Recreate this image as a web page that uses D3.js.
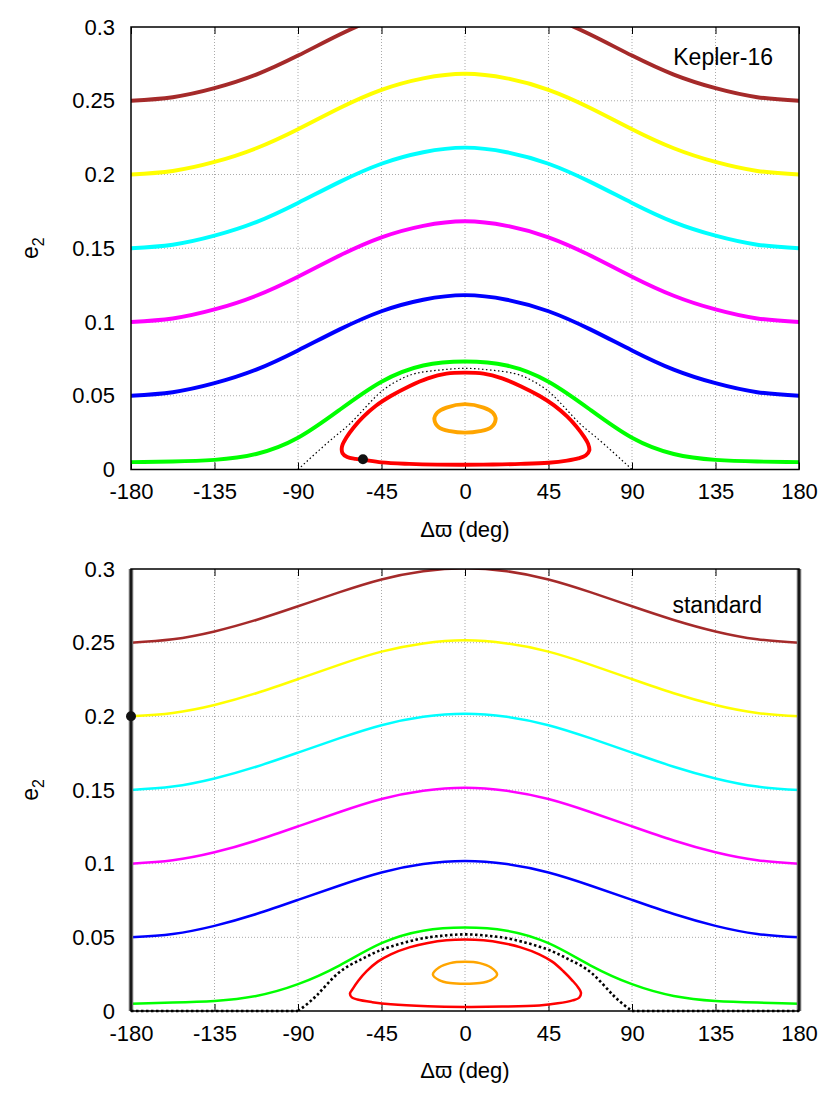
<!DOCTYPE html>
<html>
<head>
<meta charset="utf-8">
<script src="https://cdn.jsdelivr.net/npm/d3@7"></script>
<style>
  body { margin: 0; background: #fff; }
  text { font-family: "Liberation Sans", Arial, Helvetica, sans-serif; }
</style>
</head>
<body>
<div id="chart"></div>
<script>
// angles (deg) the level curves were read at
const dw = [-180, -157.5, -135, -112.5, -90, -67.5, -45, -22.5, 0, 22.5, 45, 67.5, 90, 112.5, 135, 157.5, 180];

const xTicks = [-180, -135, -90, -45, 0, 45, 90, 135, 180];
const yTicks = [0, 0.05, 0.1, 0.15, 0.2, 0.25, 0.3];
const yTickLabels = ["0", "0.05", "0.1", "0.15", "0.2", "0.25", "0.3"];

// Kepler-16 panel
const keplerBrown   = [.250, .2524, .2585, .2677, .2806, .2949, .3071, .3149, .318, .3149, .3071, .2949, .2806, .2677, .2585, .2524, .250];
const keplerYellow  = [.200, .2024, .2085, .2178, .2307, .2451, .2574, .2652, .2683, .2652, .2574, .2451, .2307, .2178, .2085, .2024, .200];
const keplerCyan    = [.150, .1524, .1585, .1677, .1807, .195, .2073, .2151, .2182, .2151, .2073, .195, .1807, .1677, .1585, .1524, .150];
const keplerMagenta = [.100, .1024, .1085, .1178, .1307, .1451, .1574, .1652, .1683, .1652, .1574, .1451, .1307, .1178, .1085, .1024, .100];
const keplerBlue    = [.050, .0524, .0585, .0677, .0807, .095, .1073, .1151, .1182, .1151, .1073, .095, .0807, .0677, .0585, .0524, .050];
const keplerGreen   = [.005, .0054, .0065, .0105, .0215, .0405, .0595, .0705, .0732, .0705, .0595, .0405, .0215, .0105, .0065, .0054, .005];
const keplerRed = [[0,.0657],[-10,.065],[-20,.0618],[-30,.0565],[-40,.0498],[-48,.0432],[-55,.0355],[-60,.0285],[-64,.0215],[-66.3,.0155],[-66,.011],[-63.5,.0085],[-59,.0072],[-55,.0066],[-45,.0048],[-30,.0038],[-15,.0033],[0,.0032],[15,.0034],[30,.0038],[45,.0046],[55,.006],[61,.0075],[65,.0095],[67,.013],[66.3,.0175],[64,.0225],[60,.0292],[55,.036],[48,.0435],[40,.05],[30,.0565],[20,.0618],[10,.065]];
const keplerOrange = [[-16.5,.034],[-15,.0385],[-10,.042],[0,.0443],[10,.042],[15,.0385],[16.5,.034],[14,.0285],[8,.026],[0,.025],[-8,.026],[-14,.0285]];
const keplerSep = [[-90,0],[-80,.0115],[-70,.0225],[-62,.031],[-53,.043],[-44,.054],[-35,.061],[-26,.0653],[-13,.0675],[0,.0686],[13,.0675],[26,.0653],[35,.061],[44,.054],[53,.043],[62,.031],[70,.0225],[80,.0115],[90,0]];
const keplerDot = [-55, 0.007];

// standard panel
const stdBrown   = [.250, .2523, .2576, .2654, .2747, .2843, .2929, .2985, .3005, .2985, .2929, .2843, .2747, .2654, .2576, .2523, .250];
const stdYellow  = [.200, .2023, .2077, .2157, .2253, .2351, .2439, .2495, .2516, .2495, .2439, .2351, .2253, .2157, .2077, .2023, .200];
const stdCyan    = [.150, .1523, .1578, .1658, .1754, .1852, .194, .1997, .2018, .1997, .194, .1852, .1754, .1658, .1578, .1523, .150];
const stdMagenta = [.100, .1023, .1077, .1157, .1253, .1351, .1439, .1495, .1516, .1495, .1439, .1351, .1253, .1157, .1077, .1023, .100];
const stdBlue    = [.050, .0523, .0578, .0658, .0754, .0852, .094, .0997, .1018, .0997, .094, .0852, .0754, .0658, .0578, .0523, .050];
const stdGreen   = [.005, .0057, .0068, .0102, .0182, .031, .046, .0545, .0566, .0545, .046, .031, .0182, .0102, .0068, .0057, .005];
const stdRed = [[0,.0485],[-10,.048],[-20,.0462],[-30,.0432],[-40,.0385],[-47,.0335],[-53,.027],[-57.5,.0205],[-60.5,.015],[-62,.0118],[-61,.0092],[-58,.0078],[-50,.006],[-40,.0045],[-20,.0032],[0,.0028],[20,.003],[40,.0038],[50,.0052],[58,.0072],[61.5,.009],[62.5,.0125],[61,.016],[58,.0205],[53,.027],[47,.0335],[40,.0385],[30,.0432],[20,.0462],[10,.048]];
const stdOrange = [[-17.3,.0248],[-14,.0295],[-8,.0325],[0,.0334],[8,.0325],[14,.0295],[17.3,.0248],[14,.021],[8,.019],[0,.0185],[-8,.019],[-14,.021]];
const stdSep = [[-90,0],[-80,.0105],[-68,.026],[-56,.035],[-44,.042],[-26,.0485],[-13,.051],[0,.052],[13,.051],[26,.0485],[44,.042],[56,.035],[68,.026],[80,.0105],[90,0]];
const stdSepFlat = [[[-180,0],[-90,0]], [[90,0],[180,0]]];
const stdDot = [-180, 0.2];

const colors = ["#a52a2a", "#ffff00", "#00ffff", "#ff00ff", "#0000ff", "#00ff00"];

const width = 831;
const height = 1097;
const left = 131, right = 799;

const svg = d3.select('#chart').append('svg')
              .attr('width', width)
              .attr('height', height);

const x = d3.scaleLinear().domain([-180, 180]).range([left, right]);

function drawPanel(cfg) {
    const y = d3.scaleLinear().domain([0, 0.3]).range([cfg.bottom, cfg.top]);
    const g = svg.append('g');

    g.append('clipPath').attr('id', cfg.id + '-clip')
     .append('rect')
     .attr('x', left).attr('y', cfg.top)
     .attr('width', right - left).attr('height', cfg.bottom - cfg.top);

    // grid
    g.selectAll('.vgrid')
     .data(xTicks.slice(1, -1))
     .enter().append('line')
     .attr('x1', d => x(d)).attr('x2', d => x(d))
     .attr('y1', cfg.top).attr('y2', cfg.bottom)
     .attr('stroke', '#aaa').attr('stroke-width', 1)
     .attr('stroke-dasharray', '1,2');
    g.selectAll('.hgrid')
     .data(yTicks.slice(1, -1))
     .enter().append('line')
     .attr('x1', left).attr('x2', right)
     .attr('y1', d => y(d)).attr('y2', d => y(d))
     .attr('stroke', '#aaa').attr('stroke-width', 1)
     .attr('stroke-dasharray', '1,2');

    // axes
    g.append('g')
     .attr('transform', `translate(0,${cfg.bottom})`)
     .call(d3.axisBottom(x).tickValues(xTicks).tickSize(-7).tickPadding(14).tickFormat(d => d))
     .call(a => a.select('.domain').remove())
     .call(a => a.selectAll('text').attr('fill', '#000').style('font-size', '22px').attr('dy', '0.71em'))
     .call(a => a.selectAll('line').attr('stroke', '#000'));
    g.append('g')
     .attr('transform', `translate(0,${cfg.top})`)
     .call(d3.axisTop(x).tickValues(xTicks).tickSize(-7).tickFormat(''))
     .call(a => a.select('.domain').remove())
     .call(a => a.selectAll('line').attr('stroke', '#000'));
    g.append('g')
     .attr('transform', `translate(${left},0)`)
     .call(d3.axisLeft(y).tickValues(yTicks).tickSize(0).tickPadding(16).tickFormat((d, i) => yTickLabels[i]))
     .call(a => a.select('.domain').remove())
     .call(a => a.selectAll('text').attr('fill', '#000').style('font-size', '22px'));

    const line = d3.line().x(d => x(d[0])).y(d => y(d[1])).curve(d3.curveNatural);
    const loop = d3.line().x(d => x(d[0])).y(d => y(d[1])).curve(d3.curveCatmullRomClosed.alpha(0.5));

    const curves = g.append('g').attr('clip-path', `url(#${cfg.id}-clip)`);

    cfg.series.forEach((s, i) => {
        curves.append('path')
              .attr('d', line(dw.map((d, j) => [d, s[j]])))
              .attr('fill', 'none')
              .attr('stroke', colors[i])
              .attr('stroke-width', cfg.lw);
    });

    curves.append('path')
          .attr('d', line(cfg.sep))
          .attr('fill', 'none')
          .attr('stroke', '#000')
          .attr('stroke-width', cfg.sepWidth)
          .attr('stroke-dasharray', cfg.sepDash);

    curves.append('path')
          .attr('d', loop(cfg.red))
          .attr('fill', 'none')
          .attr('stroke', '#ff0000')
          .attr('stroke-width', cfg.lw);
    curves.append('path')
          .attr('d', loop(cfg.orange))
          .attr('fill', 'none')
          .attr('stroke', '#ffa500')
          .attr('stroke-width', cfg.lw);

    if (cfg.greyEdges) {
        [-180, 180].forEach(v => {
            g.append('line')
             .attr('x1', x(v)).attr('x2', x(v))
             .attr('y1', cfg.top).attr('y2', cfg.bottom)
             .attr('stroke', '#6a6a6a').attr('stroke-width', 4.5);
        });
    }

    // frame
    g.append('rect')
     .attr('x', left).attr('y', cfg.top)
     .attr('width', right - left).attr('height', cfg.bottom - cfg.top)
     .attr('fill', 'none').attr('stroke', '#000').attr('stroke-width', 1.5);

    g.append('circle')
     .attr('cx', x(cfg.dot[0])).attr('cy', y(cfg.dot[1]))
     .attr('r', 5).attr('fill', '#111');

    g.append('text')
     .attr('x', cfg.labelX).attr('y', cfg.top + cfg.labelDy)
     .attr('text-anchor', 'end')
     .style('font-size', '23px')
     .text(cfg.label);

    g.append('text')
     .attr('x', (left + right) / 2).attr('y', cfg.bottom + 67)
     .attr('text-anchor', 'middle')
     .style('font-size', '22px')
     .text('\u0394\u03D6 (deg)');

    const yl = g.append('text')
                .attr('transform', `translate(38,${(cfg.top + cfg.bottom) / 2}) rotate(-90)`)
                .attr('text-anchor', 'middle')
                .style('font-size', '23px');
    yl.append('tspan').text('e');
    yl.append('tspan').attr('dy', 6).style('font-size', '16px').text('2');

    return y;
}

drawPanel({
    id: 'kepler', top: 27, bottom: 469.5,
    series: [keplerBrown, keplerYellow, keplerCyan, keplerMagenta, keplerBlue, keplerGreen],
    red: keplerRed, orange: keplerOrange,
    sep: keplerSep, sepWidth: 1.2, sepDash: '1.5,2.5',
    lw: 3.9, dot: keplerDot,
    label: 'Kepler-16', labelX: 773, labelDy: 38
});

const yStd = drawPanel({
    id: 'std', top: 569, bottom: 1011,
    series: [stdBrown, stdYellow, stdCyan, stdMagenta, stdBlue, stdGreen],
    red: stdRed, orange: stdOrange,
    sep: stdSep, sepWidth: 2.6, sepDash: '2.5,2.5',
    lw: 2.5, dot: stdDot, greyEdges: true,
    label: 'standard', labelX: 762, labelDy: 44
});

// dotted separatrix along e2 = 0 in the standard panel
stdSepFlat.forEach(seg => {
    svg.append('path')
       .attr('d', d3.line().x(d => x(d[0])).y(d => yStd(d[1]))(seg))
       .attr('fill', 'none')
       .attr('stroke', '#000')
       .attr('stroke-width', 2.6)
       .attr('stroke-dasharray', '2.5,2.5');
});
</script>
</body>
</html>
